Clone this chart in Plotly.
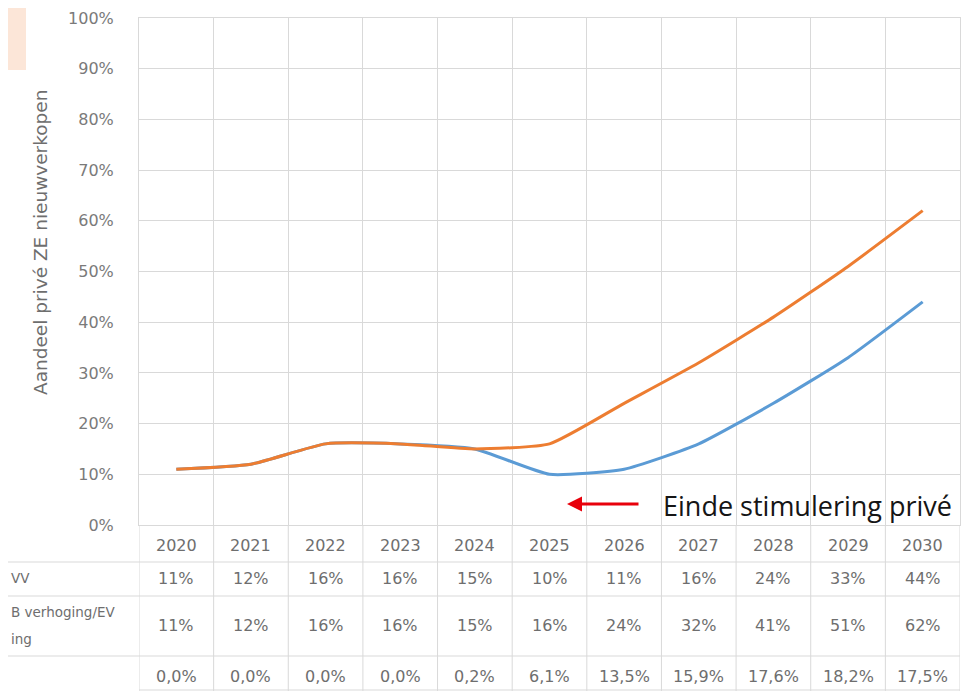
import plotly.graph_objects as go

years = ["2020", "2021", "2022", "2023", "2024", "2025", "2026", "2027", "2028", "2029", "2030"]
blue_vals = [11, 12, 16, 16, 15, 10, 11, 16, 24, 33, 44]
orange_vals = [11, 12, 16, 16, 15, 16, 24, 32, 41, 51, 62]
diff_labels = ["0,0%", "0,0%", "0,0%", "0,0%", "0,2%", "6,1%", "13,5%", "15,9%", "17,6%", "18,2%", "17,5%"]
row_labels = ["VV", "B verhoging/EV", "ing"]
y_title = "Aandeel privé ZE nieuwverkopen"
note_text = "Einde stimulering privé"

BLUE = "#5B9BD5"
ORANGE = "#ED7D31"
GRID = "#D9D9D9"
TXT = "#6e6e6e"
FONT = "DejaVu Sans"

OFF = 8                      # page body margin of the html page
W, H = 979 - OFF, 691 - OFF  # figure size
L = 139 - OFF
T = 18 - OFF
R = W - (960 - OFF)
B = H - (525 - OFF)
plot_w = W - L - R
plot_h = H - T - B
n = len(years)
colw = plot_w / n

def py(page_y):
    """page pixel y -> paper y"""
    return (525 - page_y) / plot_h

def px(page_x):
    """page pixel x -> paper x"""
    return (page_x - 139) / plot_w

def dx(page_x):
    """page pixel x -> data x"""
    return (page_x - 139) / colw - 0.5

xs = list(range(n))

fig = go.Figure()
fig.add_trace(go.Scatter(x=xs, y=[v / 100 for v in blue_vals], mode="lines",
                         line=dict(color=BLUE, width=3, shape="spline", smoothing=0.5),
                         hoverinfo="skip", showlegend=False))
fig.add_trace(go.Scatter(x=xs, y=[v / 100 for v in orange_vals], mode="lines",
                         line=dict(color=ORANGE, width=3, shape="spline", smoothing=0.5),
                         hoverinfo="skip", showlegend=False))

tfont = dict(family=FONT, size=16, color=TXT)
annotations = []
for i, yr in enumerate(years):
    for txt, yy in [(yr, 545), (f"{blue_vals[i]}%", 578), (f"{orange_vals[i]}%", 625), (diff_labels[i], 676)]:
        annotations.append(dict(x=i, y=py(yy), xref="x", yref="paper", text=txt, showarrow=False,
                                font=tfont, yanchor="middle"))

# row labels (left column)
for txt, left_x, yy in [(row_labels[0], 9, 578), (row_labels[1], 9, 612), (row_labels[2], 9, 639)]:
    annotations.append(dict(x=px(left_x), y=py(yy), xref="paper", yref="paper", text=txt,
                            showarrow=False, xanchor="left", yanchor="middle",
                            font=dict(family=FONT, size=13.5, color=TXT)))

# y axis title
annotations.append(dict(x=px(40), y=py(243), xref="paper", yref="paper", text=y_title,
                        showarrow=False, textangle=-90, xanchor="center", yanchor="middle",
                        font=dict(family=FONT, size=18.5, color=TXT)))

# arrow and note
annotations.append(dict(x=dx(567), y=py(504), xref="x", yref="paper", text="",
                        showarrow=True, arrowhead=2, arrowsize=1, arrowwidth=3, arrowcolor="#E8000B",
                        ax=73, ay=0, axref="pixel", ayref="pixel"))
annotations.append(dict(x=dx(661), y=py(505), xref="x", yref="paper", text=note_text,
                        showarrow=False, xanchor="left", yanchor="middle",
                        font=dict(family="Open Sans", size=27, color="#151515")))

shapes = []
for b in range(n + 1):
    shapes.append(dict(type="line", xref="x", yref="paper", x0=b - 0.5, x1=b - 0.5,
                       y0=py(700), y1=0, line=dict(color=GRID, width=1), layer="below"))
for yy in [562, 596, 656]:
    shapes.append(dict(type="line", xref="paper", yref="paper", x0=px(-10), x1=1,
                       y0=py(yy), y1=py(yy), line=dict(color=GRID, width=1), layer="below"))
shapes.append(dict(type="line", xref="paper", yref="paper", x0=0, x1=1,
                   y0=py(690), y1=py(690), line=dict(color=GRID, width=1), layer="below"))
# faded peach block (remnant of a cropped legend)
shapes.append(dict(type="rect", xref="paper", yref="paper", x0=px(0), x1=px(26),
                   y0=py(70), y1=py(0), fillcolor="#FCE6D8", line=dict(width=0), layer="below"))

fig.update_layout(
    width=W, height=H,
    margin=dict(l=L, r=R, t=T, b=B, pad=0),
    paper_bgcolor="white", plot_bgcolor="white",
    xaxis=dict(range=[-0.5, n - 0.5], tick0=0.5, dtick=1, showgrid=True, gridcolor=GRID,
               gridwidth=1, showticklabels=False, zeroline=False, showline=True, linecolor=GRID,
               mirror=True, fixedrange=True, automargin=False),
    yaxis=dict(range=[0, 1], dtick=0.1, tickformat=".0%", showgrid=True, gridcolor=GRID, gridwidth=1,
               zeroline=False, showline=True, linecolor=GRID, mirror=True, ticks="",
               ticklabelstandoff=21, tickfont=dict(family=FONT, size=16, color="#7a7a7a"),
               fixedrange=True, automargin=False),
    annotations=annotations,
    shapes=shapes,
    showlegend=False,
)

fig.write_html("out.html")
